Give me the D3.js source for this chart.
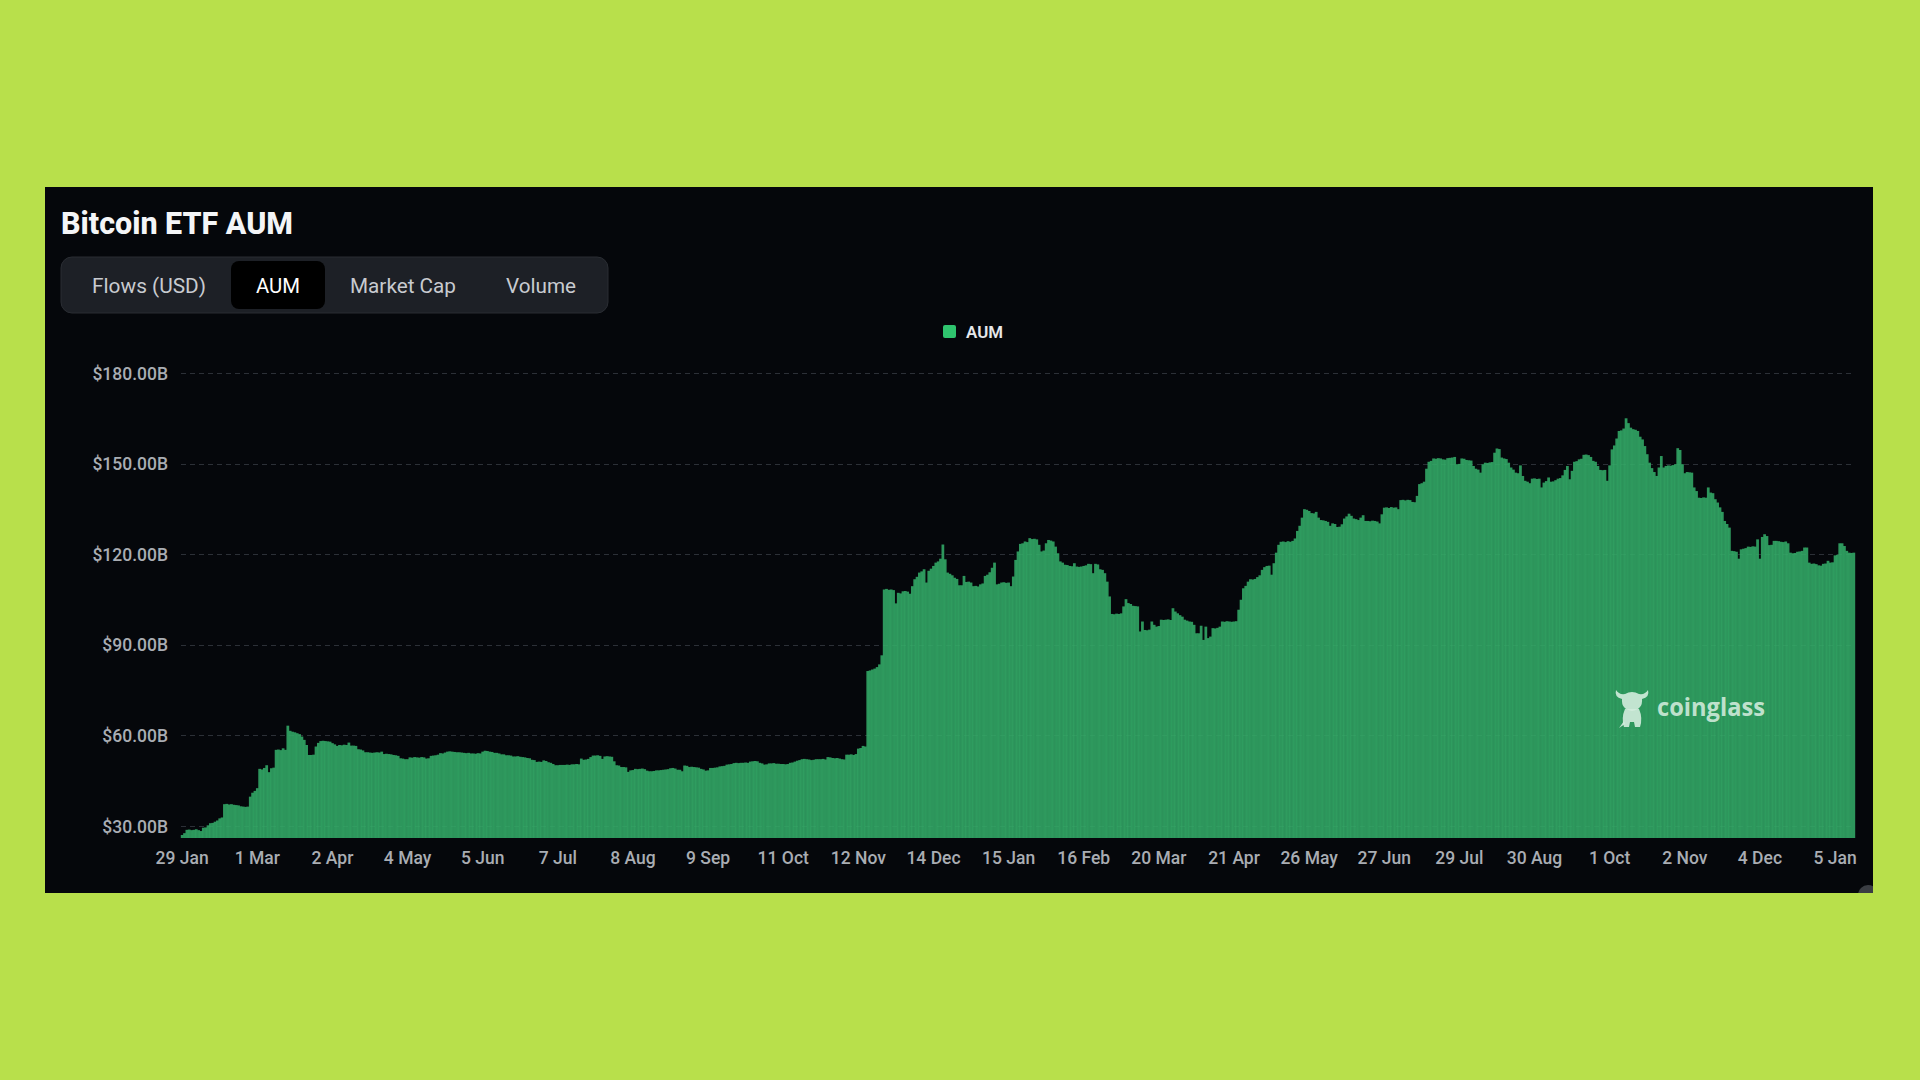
<!DOCTYPE html>
<html><head><meta charset="utf-8">
<script src="https://cdn.jsdelivr.net/npm/d3@7"></script>
<style>
html,body{margin:0;padding:0;background:#b8e04b;}
svg{display:block;}
</style></head><body>
<svg id="c" width="1920" height="1080"></svg>
<script>
// ---------- DATA ----------
const title = "Bitcoin ETF AUM";
const tabs = ["Flows (USD)", "AUM", "Market Cap", "Volume"];
const activeTab = "AUM";
const seriesName = "AUM";
const startDate = "2024-01-29";
const missingDates = ["2025-05-01", "2025-05-02", "2025-05-03"];
const labelEvery = 32;
const yTicks = [30, 60, 90, 120, 150, 180];
const yMin = 26, yMax = 180;
// AUM, billions USD, one value per day
const aum = [
27.0,27.6,28.7,28.8,28.6,28.7,28.9,28.6,28.3,29.4,
29.5,30.2,30.9,31.0,31.4,31.8,32.5,32.8,37.2,37.3,
37.1,37.2,37.0,36.9,36.8,36.5,36.4,36.3,36.4,39.7,
41.0,41.6,42.5,48.9,48.7,49.2,50.1,47.8,49.1,49.3,
55.2,55.3,55.1,55.7,55.2,63.2,61.5,61.2,61.0,60.7,
60.4,59.6,58.5,56.8,53.5,53.5,53.6,56.3,57.5,58.1,
58.2,58.1,58.0,57.9,57.4,57.0,56.5,56.8,56.7,56.9,
56.8,57.6,56.6,56.6,56.5,55.4,55.3,55.0,54.4,54.4,
54.3,54.2,54.3,54.4,54.3,54.6,53.8,53.9,53.8,53.7,
53.5,53.4,53.2,52.4,52.3,52.1,52.1,52.7,52.6,52.8,
52.7,52.6,52.8,52.7,52.3,52.4,53.2,53.3,53.4,53.6,
54.1,54.0,54.3,54.6,54.7,54.6,54.5,54.4,54.4,54.3,
54.2,54.1,54.2,54.0,54.0,53.9,54.1,54.0,54.6,54.9,
54.8,54.6,54.5,54.2,54.2,54.0,53.7,53.7,53.4,53.4,
53.3,53.0,53.0,53.1,52.9,52.8,52.7,52.5,52.4,51.9,
51.8,51.2,51.3,51.2,51.7,51.5,51.1,50.9,50.5,50.1,
50.1,50.2,50.2,50.2,50.3,50.2,50.4,50.4,50.5,50.4,
52.3,51.9,52.0,52.2,52.8,53.3,53.3,53.4,53.2,52.2,
53.0,53.1,53.0,52.9,51.4,50.1,50.0,49.5,49.5,49.4,
47.9,48.4,48.5,48.9,48.8,48.9,49.0,48.8,48.3,48.1,
48.1,48.2,48.4,48.4,48.5,48.6,48.7,48.8,49.1,49.2,
49.0,48.6,48.6,48.1,50.0,49.9,49.5,49.6,49.5,49.4,
49.3,48.9,48.7,48.3,48.4,49.2,49.2,49.3,49.4,49.7,
49.8,49.9,50.3,50.4,50.5,50.8,50.9,50.8,50.9,50.9,
51.0,50.9,51.3,51.4,51.5,51.4,50.9,50.7,50.3,50.4,
50.7,50.7,50.8,50.6,50.6,50.5,50.5,50.4,50.5,50.9,
51.0,51.3,51.6,51.8,52.1,52.2,52.1,52.0,51.8,51.9,
52.1,52.1,52.1,52.2,52.0,52.8,52.7,52.5,52.4,52.5,
52.3,52.1,52.0,53.6,53.6,53.7,53.5,53.8,55.6,55.8,
56.5,56.3,81.3,81.5,81.8,82.1,82.6,83.5,86.5,108.3,
108.5,108.2,108.3,108.1,103.7,107.2,107.0,107.7,107.8,107.6,
106.9,109.4,111.7,112.5,113.9,114.3,115.0,110.6,114.5,115.2,
116.1,117.2,117.6,118.5,123.2,118.3,113.9,113.5,113.0,112.2,
111.8,109.7,109.7,112.8,110.8,110.9,110.6,109.4,109.5,109.3,
110.0,110.3,112.8,113.2,114.0,115.5,117.2,110.0,110.2,110.6,
110.7,110.5,110.6,109.4,112.6,118.1,120.9,123.4,123.6,124.2,
124.0,125.3,125.0,125.1,124.9,123.1,120.9,121.2,123.6,124.7,
124.5,124.2,122.5,120.3,117.6,117.2,116.5,116.4,116.1,116.0,
117.0,115.9,115.8,115.9,116.1,116.3,116.8,116.7,113.7,116.8,
116.6,115.0,114.8,113.7,110.9,106.0,100.2,100.1,100.3,100.2,
100.4,102.7,105.1,103.8,103.5,102.9,102.8,102.7,94.4,97.7,
94.9,94.8,95.0,97.7,96.6,96.0,96.2,98.3,98.2,98.3,
98.4,98.2,102.1,101.0,100.4,99.8,99.3,98.3,98.0,97.7,
97.6,96.6,93.8,93.8,96.3,91.6,96.0,92.2,92.7,95.5,
95.4,95.6,96.0,97.7,97.6,97.8,97.7,97.6,97.7,97.8,
101.6,104.9,108.7,109.5,110.9,111.7,111.6,111.8,112.4,113.0,
114.8,115.7,116.1,116.2,113.2,117.0,120.5,123.1,124.1,124.2,
124.0,124.3,124.1,124.4,125.2,127.7,129.4,132.1,134.9,134.7,
134.3,133.6,133.5,134.0,132.1,131.3,131.2,131.0,130.7,129.4,
130.2,130.0,129.0,129.1,129.9,131.8,132.5,133.4,132.7,131.8,
131.6,131.3,132.1,132.9,131.0,131.0,130.9,131.1,131.0,130.8,
130.2,133.2,135.4,135.5,135.3,135.6,135.4,135.5,134.9,137.9,
138.0,137.8,138.0,137.9,137.3,137.2,139.3,143.2,143.5,144.0,
148.3,150.6,150.9,151.7,151.6,151.8,151.7,151.4,151.3,151.8,
151.9,152.0,152.2,149.8,149.9,151.7,151.6,151.2,151.1,151.0,
149.2,148.3,148.0,147.0,149.8,150.3,150.2,150.4,150.5,153.6,
155.0,154.8,152.0,151.7,151.5,150.3,148.7,148.0,147.0,146.8,
149.4,145.9,144.3,144.0,143.5,145.0,145.1,144.9,145.0,142.1,
143.7,144.2,145.4,144.0,144.1,144.5,145.0,145.2,146.1,147.9,
149.2,144.8,147.6,150.6,150.8,151.4,151.6,152.9,153.0,152.8,
152.2,150.9,150.6,149.2,147.9,147.8,147.9,144.3,149.4,154.7,
156.0,158.3,160.8,161.0,161.6,165.0,163.4,161.9,161.4,161.2,
160.8,158.9,158.0,155.8,153.1,150.3,148.5,147.2,145.9,148.7,
152.5,148.7,149.2,149.4,149.3,149.5,149.8,155.1,154.5,149.8,
146.8,147.2,147.1,147.0,142.1,140.9,138.7,138.6,138.8,138.7,
142.1,140.4,140.2,138.2,137.1,135.5,134.0,131.0,130.0,128.8,
121.1,121.0,120.8,118.5,121.6,121.8,122.0,122.5,122.4,122.6,
122.5,124.9,118.5,125.7,126.6,126.0,123.0,123.1,124.4,124.4,
124.3,124.1,124.0,124.2,123.6,120.5,120.3,120.4,120.8,120.9,
121.1,122.2,122.2,117.2,116.8,116.9,116.7,116.3,116.2,116.8,
116.9,117.8,117.2,117.3,119.6,119.8,123.6,123.6,122.7,121.1,
120.5,120.4,120.5
];

// ---------- CATEGORIES ----------
const parse = d3.utcParse("%Y-%m-%d");
const keyFmt = d3.utcFormat("%Y-%m-%d");
const labelFmt = d3.utcFormat("%-d %b");
const dates = [];
{
  let d = parse(startDate);
  while (dates.length < aum.length) {
    const k = keyFmt(d);
    if (!missingDates.includes(k)) dates.push(k);
    d = d3.utcDay.offset(d, 1);
  }
}
const data = dates.map((k, i) => ({ k, v: aum[i] }));

// ---------- LAYOUT ----------
const svg = d3.select("#c");
const panel = { x: 45, y: 187, w: 1828, h: 706 };
const plot = { left: 181, right: 1855, top: 373, bottom: 838 };
const FONT = "Roboto, 'Noto Sans', Arial, sans-serif";

svg.append("rect").attr("width", 1920).attr("height", 1080).attr("fill", "#b8e04b");
svg.append("clipPath").attr("id", "pclip").append("rect")
  .attr("x", panel.x).attr("y", panel.y).attr("width", panel.w).attr("height", panel.h);
svg.append("rect").attr("x", panel.x).attr("y", panel.y).attr("width", panel.w).attr("height", panel.h)
  .attr("fill", "#05070b");
svg.append("circle").attr("cx", 1868).attr("cy", 895).attr("r", 10).attr("fill", "#3a3d43")
  .attr("clip-path", "url(#pclip)");

// title
svg.append("text").attr("x", 61).attr("y", 234).text(title)
  .attr("font-family", FONT).attr("font-weight", 800).attr("font-size", 32)
  .attr("fill", "#f4f5f7").attr("textLength", 232).attr("lengthAdjust", "spacingAndGlyphs");

// tabs
const tabTextLen = { "Flows (USD)": 114, "AUM": 44, "Market Cap": 106, "Volume": 70 };
const tabG = svg.append("g");
tabG.append("rect").attr("x", 61).attr("y", 257).attr("width", 547).attr("height", 56)
  .attr("rx", 11).attr("fill", "#1d2026").attr("stroke", "#2a2d33").attr("stroke-width", 1);
let tx = 67;
tabs.forEach(t => {
  const w = tabTextLen[t] + 50;
  if (t === activeTab) {
    tabG.append("rect").attr("x", tx).attr("y", 261).attr("width", w).attr("height", 48)
      .attr("rx", 8).attr("fill", "#000000");
  }
  tabG.append("text").attr("x", tx + 25).attr("y", 293).text(t)
    .attr("font-family", FONT).attr("font-size", 20.5)
    .attr("fill", t === activeTab ? "#ffffff" : "#c8cbd0")
    .attr("textLength", tabTextLen[t]).attr("lengthAdjust", "spacingAndGlyphs");
  tx += w;
});

// legend
svg.append("rect").attr("x", 943).attr("y", 325).attr("width", 13).attr("height", 13)
  .attr("rx", 2).attr("fill", "#2fc46e");
svg.append("text").attr("x", 966).attr("y", 338).text(seriesName)
  .attr("font-family", FONT).attr("font-weight", 600).attr("font-size", 16)
  .attr("fill", "#e6e8eb").attr("textLength", 37).attr("lengthAdjust", "spacingAndGlyphs");

// scales
const x = d3.scaleBand().domain(dates).range([plot.left, plot.right]).padding(0);
const y = d3.scaleLinear().domain([yMin, yMax]).range([plot.bottom, plot.top]);

// grid
svg.append("g").selectAll("line").data(yTicks).join("line")
  .attr("x1", plot.left).attr("x2", plot.right)
  .attr("y1", d => Math.round(y(d)) + 0.5).attr("y2", d => Math.round(y(d)) + 0.5)
  .attr("stroke", "#2c3037").attr("stroke-width", 1).attr("stroke-dasharray", "5,4");

// y axis labels
const yAxis = d3.axisLeft(y).tickValues(yTicks).tickSize(0).tickPadding(0)
  .tickFormat(d => "$" + d3.format(".2f")(d) + "B");
const yg = svg.append("g").attr("transform", "translate(168,0)").call(yAxis);
yg.select(".domain").remove();
yg.selectAll("text").attr("font-family", FONT).attr("font-size", 17.5).attr("font-weight", 500)
  .attr("fill", "#a9adb3").attr("dy", "0.35em");

// bars
const bw = x.bandwidth();
svg.append("g").selectAll("rect").data(data).join("rect")
  .attr("x", d => x(d.k) - 0.2)
  .attr("width", bw + 0.4)
  .attr("y", d => y(d.v))
  .attr("height", d => y(yMin) - y(d.v))
  .attr("fill", "#33ab68").attr("fill-opacity", 0.88);

// x axis labels
const xTicks = dates.filter((_, i) => i % labelEvery === 0);
const xAxis = d3.axisBottom(x).tickValues(xTicks).tickSize(0).tickPadding(0)
  .tickFormat(k => labelFmt(parse(k)));
const xg = svg.append("g").attr("transform", `translate(0,${plot.bottom})`).call(xAxis);
xg.select(".domain").remove();
xg.selectAll("text").attr("font-family", FONT).attr("font-size", 17.5).attr("font-weight", 500)
  .attr("fill", "#a9adb3").attr("dy", "1.5em");

// watermark
const wm = svg.append("g").attr("fill", "#d3ecdd").attr("fill-opacity", 0.9);
wm.append("path").attr("d",
  "M1622,699 Q1614,697 1616,690 Q1619,695 1625,694 Q1632,690 1639,694 Q1645,695 1648,690 Q1650,697 1642,699 Q1643,709 1632,711 Q1621,709 1622,699 Z");
wm.append("path").attr("d",
  "M1625,709 L1639,709 Q1643,718 1640,727 L1635,727 L1634,722 L1630,722 L1629,727 L1624,727 Q1621,718 1625,709 Z");
wm.append("path").attr("d", "M1619,728 L1624,721 L1625,724 Z");
wm.append("text").attr("x", 1657).attr("y", 716).text("coinglass")
  .attr("font-family", "'Open Sans', Lato, sans-serif").attr("font-weight", 700).attr("font-size", 25)
  .attr("textLength", 108).attr("lengthAdjust", "spacingAndGlyphs");
</script>
</body></html>
